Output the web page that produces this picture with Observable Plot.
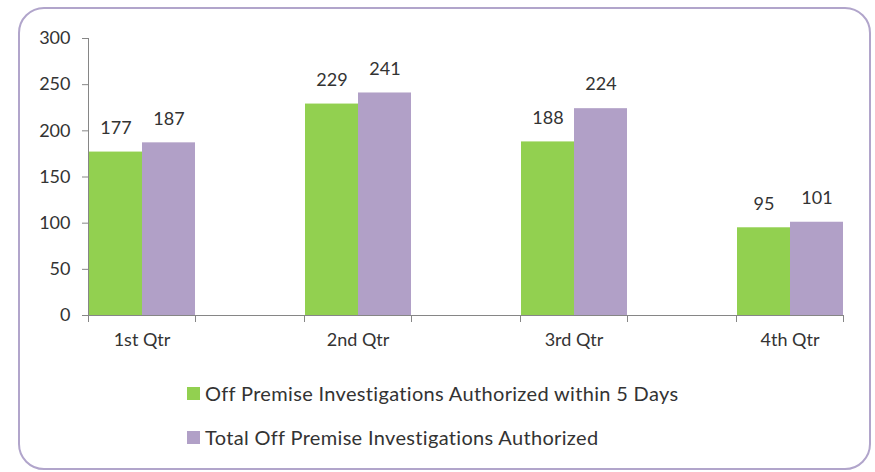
<!DOCTYPE html>
<html><head><meta charset="utf-8">
<script src="https://cdn.jsdelivr.net/npm/d3@7"></script>
<script src="https://cdn.jsdelivr.net/npm/@observablehq/plot@0.6"></script>
<style>
body{margin:0;background:#fff;font-family:Lato, sans-serif;}
#wrap{position:relative;width:875px;height:472px;overflow:hidden;}
#box{position:absolute;left:18px;top:7px;width:849px;height:459px;border:2.5px solid #B1A5CB;border-radius:26px;}
#chart{position:absolute;left:0;top:0;}
#legend{position:absolute;left:187px;top:381px;font-size:20px;letter-spacing:0.33px;color:#333;}
.item{display:flex;align-items:center;height:24px;margin-bottom:20px;}
.sw{width:13px;height:13px;margin-right:5px;}
</style></head>
<body><div id="wrap"><div id="box"></div><div id="chart"></div><div id="legend"></div></div>
<script>
const quarters = ["1st Qtr","2nd Qtr","3rd Qtr","4th Qtr"];
const seriesNames = ["Off Premise Investigations Authorized within 5 Days","Total Off Premise Investigations Authorized"];
const within5Days = [177,229,188,95];
const totalAuthorized = [187,241,224,101];
const seriesColors = ["#92D050","#B1A0C7"];
const yTicks = [0,50,100,150,200,250,300];

const data = quarters.flatMap((q,i)=>[
  {quarter:q, series:seriesNames[0], value:within5Days[i]},
  {quarter:q, series:seriesNames[1], value:totalAuthorized[i]}
]);

const axisColor = "#868686";
const chart = Plot.plot({
  width:875, height:345, marginLeft:88, marginRight:32, marginTop:38, marginBottom:30,
  style:{fontFamily:"Lato, sans-serif", fontSize:"18px", color:"#333", background:"transparent", overflow:"visible"},
  fx:{domain:quarters, paddingInner:0.505, paddingOuter:0, label:null},
  x:{domain:seriesNames, padding:0, axis:null},
  y:{domain:[0,300], label:null},
  color:{domain:seriesNames, range:seriesColors},
  marks:[
    Plot.barY(data,{fx:"quarter", x:"series", y:"value", fill:"series", inset:0}),
    Plot.text(data,{fx:"quarter", x:"series", y:"value", text:d=>String(d.value), dy:-24, fill:"#333"}),
    Plot.axisY({ticks:yTicks, tickSize:6, tickPadding:12, stroke:axisColor, label:null}),
    Plot.axisFx({anchor:"bottom", tickSize:0, tickPadding:18, label:null, fontWeight:"normal", fill:"#333"}),
    Plot.frame({anchor:"left", stroke:axisColor, facet:"super"}),
    Plot.frame({anchor:"bottom", stroke:axisColor, facet:"super"}),
    Plot.frame({anchor:"left", stroke:axisColor, insetTop:277, insetBottom:-6}),
    Plot.frame({anchor:"right", stroke:axisColor, insetTop:277, insetBottom:-6})
  ]
});
document.getElementById("chart").appendChild(chart);

const legend = document.getElementById("legend");
seriesNames.forEach((name,i)=>{
  const item = document.createElement("div");
  item.className = "item";
  const sw = document.createElement("span");
  sw.className = "sw";
  sw.style.background = seriesColors[i];
  const label = document.createElement("span");
  label.textContent = name;
  item.appendChild(sw); item.appendChild(label);
  legend.appendChild(item);
});
</script>
</body></html>
